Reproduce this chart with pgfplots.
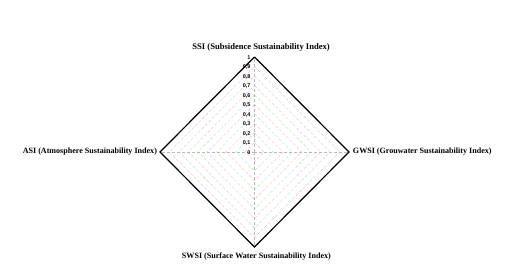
\documentclass[border=0pt]{standalone}
\usepackage{pgfplots}
\pgfplotsset{compat=1.18}
\usepackage{fontspec}
\setmainfont{Liberation Serif}
\newfontfamily\tickfont{Liberation Sans}
\definecolor{gpink}{RGB}{235,185,225}
\definecolor{ggreen}{RGB}{180,220,180}
\definecolor{ggrey}{RGB}{185,185,185}
\begin{document}
\begin{tikzpicture}
\path[use as bounding box] (0,0) rectangle (531bp,266bp);
\begin{axis}[
  at={(254.5bp,114bp)}, anchor=origin,
  scale only axis, width=189bp, height=190bp,
  xmin=-1, xmax=1, ymin=-1, ymax=1,
  hide axis, clip=false,
]
% grid rings
\addplot[gpink, thin, densely dashed] coordinates {(0,0.1) (0.1,0) (0,-0.1) (-0.1,0) (0,0.1)};
\addplot[ggreen, thin, densely dashed] coordinates {(0,0.2) (0.2,0) (0,-0.2) (-0.2,0) (0,0.2)};
\addplot[gpink, thin, densely dashed] coordinates {(0,0.3) (0.3,0) (0,-0.3) (-0.3,0) (0,0.3)};
\addplot[ggreen, thin, densely dashed] coordinates {(0,0.4) (0.4,0) (0,-0.4) (-0.4,0) (0,0.4)};
\addplot[gpink, thin, densely dashed] coordinates {(0,0.5) (0.5,0) (0,-0.5) (-0.5,0) (0,0.5)};
\addplot[ggreen, thin, densely dashed] coordinates {(0,0.6) (0.6,0) (0,-0.6) (-0.6,0) (0,0.6)};
\addplot[gpink, thin, densely dashed] coordinates {(0,0.7) (0.7,0) (0,-0.7) (-0.7,0) (0,0.7)};
\addplot[ggreen, thin, densely dashed] coordinates {(0,0.8) (0.8,0) (0,-0.8) (-0.8,0) (0,0.8)};
\addplot[gpink, thin, densely dashed] coordinates {(0,0.9) (0.9,0) (0,-0.9) (-0.9,0) (0,0.9)};
% spokes
\addplot[ggrey, thin, densely dashed] coordinates {(0,0) (0,1)};
\addplot[ggrey, thin, densely dashed] coordinates {(0,0) (1,0)};
\addplot[ggrey, thin, densely dashed] coordinates {(0,0) (0,-1)};
\addplot[ggrey, thin, densely dashed] coordinates {(0,0) (-1,0)};
% data polygon
\addplot[black, line width=1.2pt] coordinates {(0,1) (1,0) (0,-1) (-1,0) (0,1)};
% tick labels
\foreach \v/\t in {0/0,0.1/{0,1},0.2/{0,2},0.3/{0,3},0.4/{0,4},0.5/{0,5},0.6/{0,6},0.7/{0,7},0.8/{0,8},0.9/{0,9},1/1} {
  \edef\tmp{\noexpand\node[anchor=east, font=\noexpand\tickfont\noexpand\bfseries\noexpand\fontsize{5.5}{6}\noexpand\selectfont, inner sep=0pt] at (axis cs:-0.04,\v-0.01) {\t};}
  \tmp
}
% axis names
\node[anchor=south, font=\bfseries\fontsize{8.6}{10}\selectfont, inner sep=0pt] at (axis cs:0.07,1.06) {SSI (Subsidence Sustainability Index)};
\node[anchor=west, font=\bfseries\fontsize{8.1}{10}\selectfont, inner sep=0pt] at (axis cs:1.04,0) {GWSI (Grouwater Sustainability Index)};
\node[anchor=north, font=\bfseries\fontsize{8.1}{10}\selectfont, inner sep=0pt] at (axis cs:0.02,-1.06) {SWSI (Surface Water Sustainability Index)};
\node[anchor=east, font=\bfseries\fontsize{8.1}{10}\selectfont, inner sep=0pt] at (axis cs:-1.03,0) {ASI (Atmosphere Sustainability Index)};
\end{axis}
\end{tikzpicture}
\end{document}
